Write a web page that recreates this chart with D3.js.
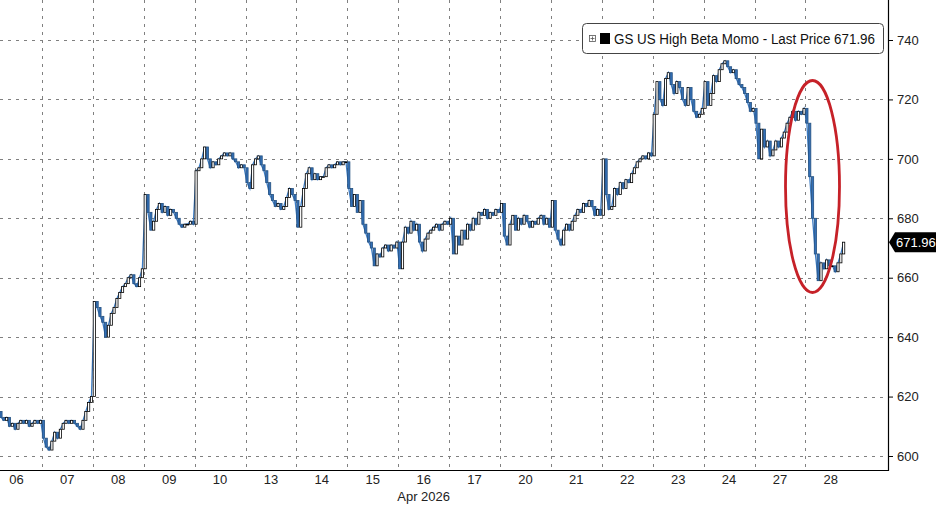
<!DOCTYPE html>
<html><head><meta charset="utf-8">
<script src="https://cdn.jsdelivr.net/npm/d3@7"></script>
<style>html,body{margin:0;padding:0;background:#fff;}svg{display:block;}</style>
</head><body>
<script>
const dayLabels = ["06","07","08","09","10","13","14","15","16","17","20","21","22","23","24","27","28"];
const yTicks = [600,620,640,660,680,700,720,740];
const p06 = [613,614,615,613,612,613,610,611,609,611,612,611,612,610,611,612,611,612];
const p07 = [606,603,602,605,608,606,609,611,612,611,612,611,610,609,612,615,618,620];
const p08 = [652,650,647,645,640,644,648,650,653,655,657,658,660,661,658,657,660,663];
const p09 = [688,682,676,679,683,685,682,684,681,683,682,680,678,677,678,678,679,678];
const p10 = [696,697,700,704,700,697,699,698,700,701,702,701,702,700,699,697,698,697];
const p13 = [692,690,698,700,701,698,696,692,688,686,684,685,683,684,687,690,688,686];
const p14 = [677,684,690,695,697,693,695,693,694,694,697,698,697,698,699,698,699,699];
const p15 = [690,684,688,682,686,678,675,672,670,664,668,667,670,671,669,671,670,672];
const p16 = [663,672,677,675,679,676,678,672,669,673,675,676,677,678,676,678,679,678];
const p17 = [680,668,674,671,676,673,678,676,680,678,682,681,683,680,682,681,683,682];
const p20 = [685,674,671,678,681,676,680,678,681,679,677,679,678,680,681,678,680,677];
const p21 = [686,676,673,671,676,678,676,679,681,683,682,685,684,686,684,681,683,681];
const p22 = [700,688,683,684,690,688,692,690,693,692,695,697,699,700,701,700,702,701];
const p23 = [715,726,720,718,727,729,725,722,726,724,720,718,724,720,716,714,715,717];
const p24 = [726,718,722,728,726,730,732,733,731,729,730,727,725,724,722,719,716,717];
const p27 = [712,700,710,704,706,701,703,706,704,707,709,712,714,716,713,716,715,717];
const p28 = [712,694,680,668,659,665,663,666,664,664,662,665,668,671.96];
const dayPrices = [p06,p07,p08,p09,p10,p13,p14,p15,p16,p17,p20,p21,p22,p23,p24,p27,p28];
const lastPrice = 671.96;
const seriesName = "GS US High Beta Momo - Last Price";
const monthLabel = "Apr 2026";

const W = 936, H = 505;
const plotRight = 888, axisY = 470;
const FONT = "Liberation Sans, Arial, sans-serif";
const svg = d3.select("body").append("svg").attr("width", W).attr("height", H);

const x = d3.scaleBand().domain(dayLabels).range([-9, -9 + 17*50.9]).padding(0);
const y = d3.scaleLinear().domain([600, 740]).range([456, 40]);
const slots = 18;
const step = x.bandwidth() / slots;

// gridlines
const grid = svg.append("g");
grid.selectAll("line.h").data(yTicks).join("line")
  .attr("x1", 0).attr("x2", plotRight)
  .attr("y1", d => Math.round(y(d)) + 0.5).attr("y2", d => Math.round(y(d)) + 0.5)
  .attr("stroke", "#808080").attr("stroke-width", 1).attr("stroke-dasharray", "3,5");
grid.selectAll("line.v").data(dayLabels.slice(1)).join("line")
  .attr("x1", d => Math.round(x(d)) + 0.5).attr("x2", d => Math.round(x(d)) + 0.5)
  .attr("y1", 0).attr("y2", axisY)
  .attr("stroke", "#808080").attr("stroke-width", 1).attr("stroke-dasharray", "3,5");

// build candles
const candles = [];
let prev = null;
dayPrices.forEach((arr, di) => {
  const start = x(dayLabels[di]);
  arr.forEach((c, i) => {
    const o = prev === null ? c : prev;
    candles.push({ x: start + 1.5 + i * step, o, c });
    prev = c;
  });
});

const line = d3.line().x(d => d.x).y(d => y(d.c));
svg.append("path").datum(candles).attr("d", line)
  .attr("fill", "none").attr("stroke", "#3c7cc4").attr("stroke-width", 1.3);

const cw = 2.2;
svg.append("g").selectAll("rect").data(candles).join("rect")
  .attr("x", d => d.x - cw/2)
  .attr("y", d => y(Math.max(d.o, d.c)))
  .attr("width", cw)
  .attr("height", d => Math.max(0.8, Math.abs(y(d.o) - y(d.c))))
  .attr("fill", d => d.c >= d.o ? "#fff" : "#3470b8")
  .attr("stroke", d => d.c >= d.o ? "#000" : "#24507f")
  .attr("stroke-width", 0.8);

// axes frame
svg.append("line").attr("x1", 0).attr("x2", plotRight).attr("y1", axisY + 0.5).attr("y2", axisY + 0.5)
  .attr("stroke", "#000").attr("stroke-width", 1.2);
svg.append("line").attr("x1", plotRight + 0.5).attr("x2", plotRight + 0.5).attr("y1", 0).attr("y2", axisY + 1)
  .attr("stroke", "#000").attr("stroke-width", 1.2);

// y axis
const yAxis = d3.axisRight(y).tickValues(yTicks).tickSize(5).tickPadding(4).tickFormat(d3.format("d"));
const ya = svg.append("g").attr("transform", `translate(${plotRight},0)`).call(yAxis);
ya.select(".domain").remove();
ya.selectAll("text").attr("font-family", FONT).attr("font-size", 13).attr("fill", "#222");
ya.selectAll("line").attr("stroke", "#000");

// x axis labels
const xAxis = d3.axisBottom(x).tickSize(0).tickPadding(5);
const xa = svg.append("g").attr("transform", `translate(0,${axisY})`).call(xAxis);
xa.select(".domain").remove();
xa.selectAll("text").attr("font-family", FONT).attr("font-size", 13).attr("fill", "#222");

svg.append("text").attr("x", x("16") + x.bandwidth()/2).attr("y", 501)
  .attr("text-anchor", "middle").attr("font-family", FONT)
  .attr("font-size", 13).attr("fill", "#222").text(monthLabel);

// last price tag
const ly = y(lastPrice);
svg.append("path")
  .attr("d", `M${plotRight+1},${ly} L${plotRight+7},${ly-10} L${W},${ly-10} L${W},${ly+10} L${plotRight+7},${ly+10} Z`)
  .attr("fill", "#000");
svg.append("text").attr("x", plotRight + 8).attr("y", ly + 5)
  .attr("font-family", FONT).attr("font-size", 13).attr("fill", "#fff")
  .text(d3.format(".2f")(lastPrice));

// legend
const lg = svg.append("g");
lg.append("rect").attr("x", 582.5).attr("y", 23.5).attr("width", 301).attr("height", 30).attr("rx", 4)
  .attr("fill", "#fff").attr("stroke", "#444").attr("stroke-width", 1);
lg.append("rect").attr("x", 589.5).attr("y", 35.5).attr("width", 6).attr("height", 6)
  .attr("fill", "#fff").attr("stroke", "#555").attr("stroke-width", 0.8);
lg.append("line").attr("x1", 590.5).attr("x2", 594.5).attr("y1", 38.5).attr("y2", 38.5).attr("stroke", "#555").attr("stroke-width", 0.8);
lg.append("line").attr("x1", 592.5).attr("x2", 592.5).attr("y1", 36.5).attr("y2", 40.5).attr("stroke", "#555").attr("stroke-width", 0.8);
lg.append("rect").attr("x", 600).attr("y", 33).attr("width", 10).attr("height", 11).attr("fill", "#000");
lg.append("text").attr("x", 614).attr("y", 44)
  .attr("font-family", FONT).attr("font-size", 14).attr("fill", "#111")
  .attr("textLength", 261).attr("lengthAdjust", "spacingAndGlyphs")
  .text(`${seriesName} ${d3.format(".2f")(lastPrice)}`);

// annotation ellipse
svg.append("ellipse").attr("cx", 812.5).attr("cy", 186.5).attr("rx", 27).attr("ry", 106)
  .attr("fill", "none").attr("stroke", "#c62128").attr("stroke-width", 2.8);
</script>
</body></html>
